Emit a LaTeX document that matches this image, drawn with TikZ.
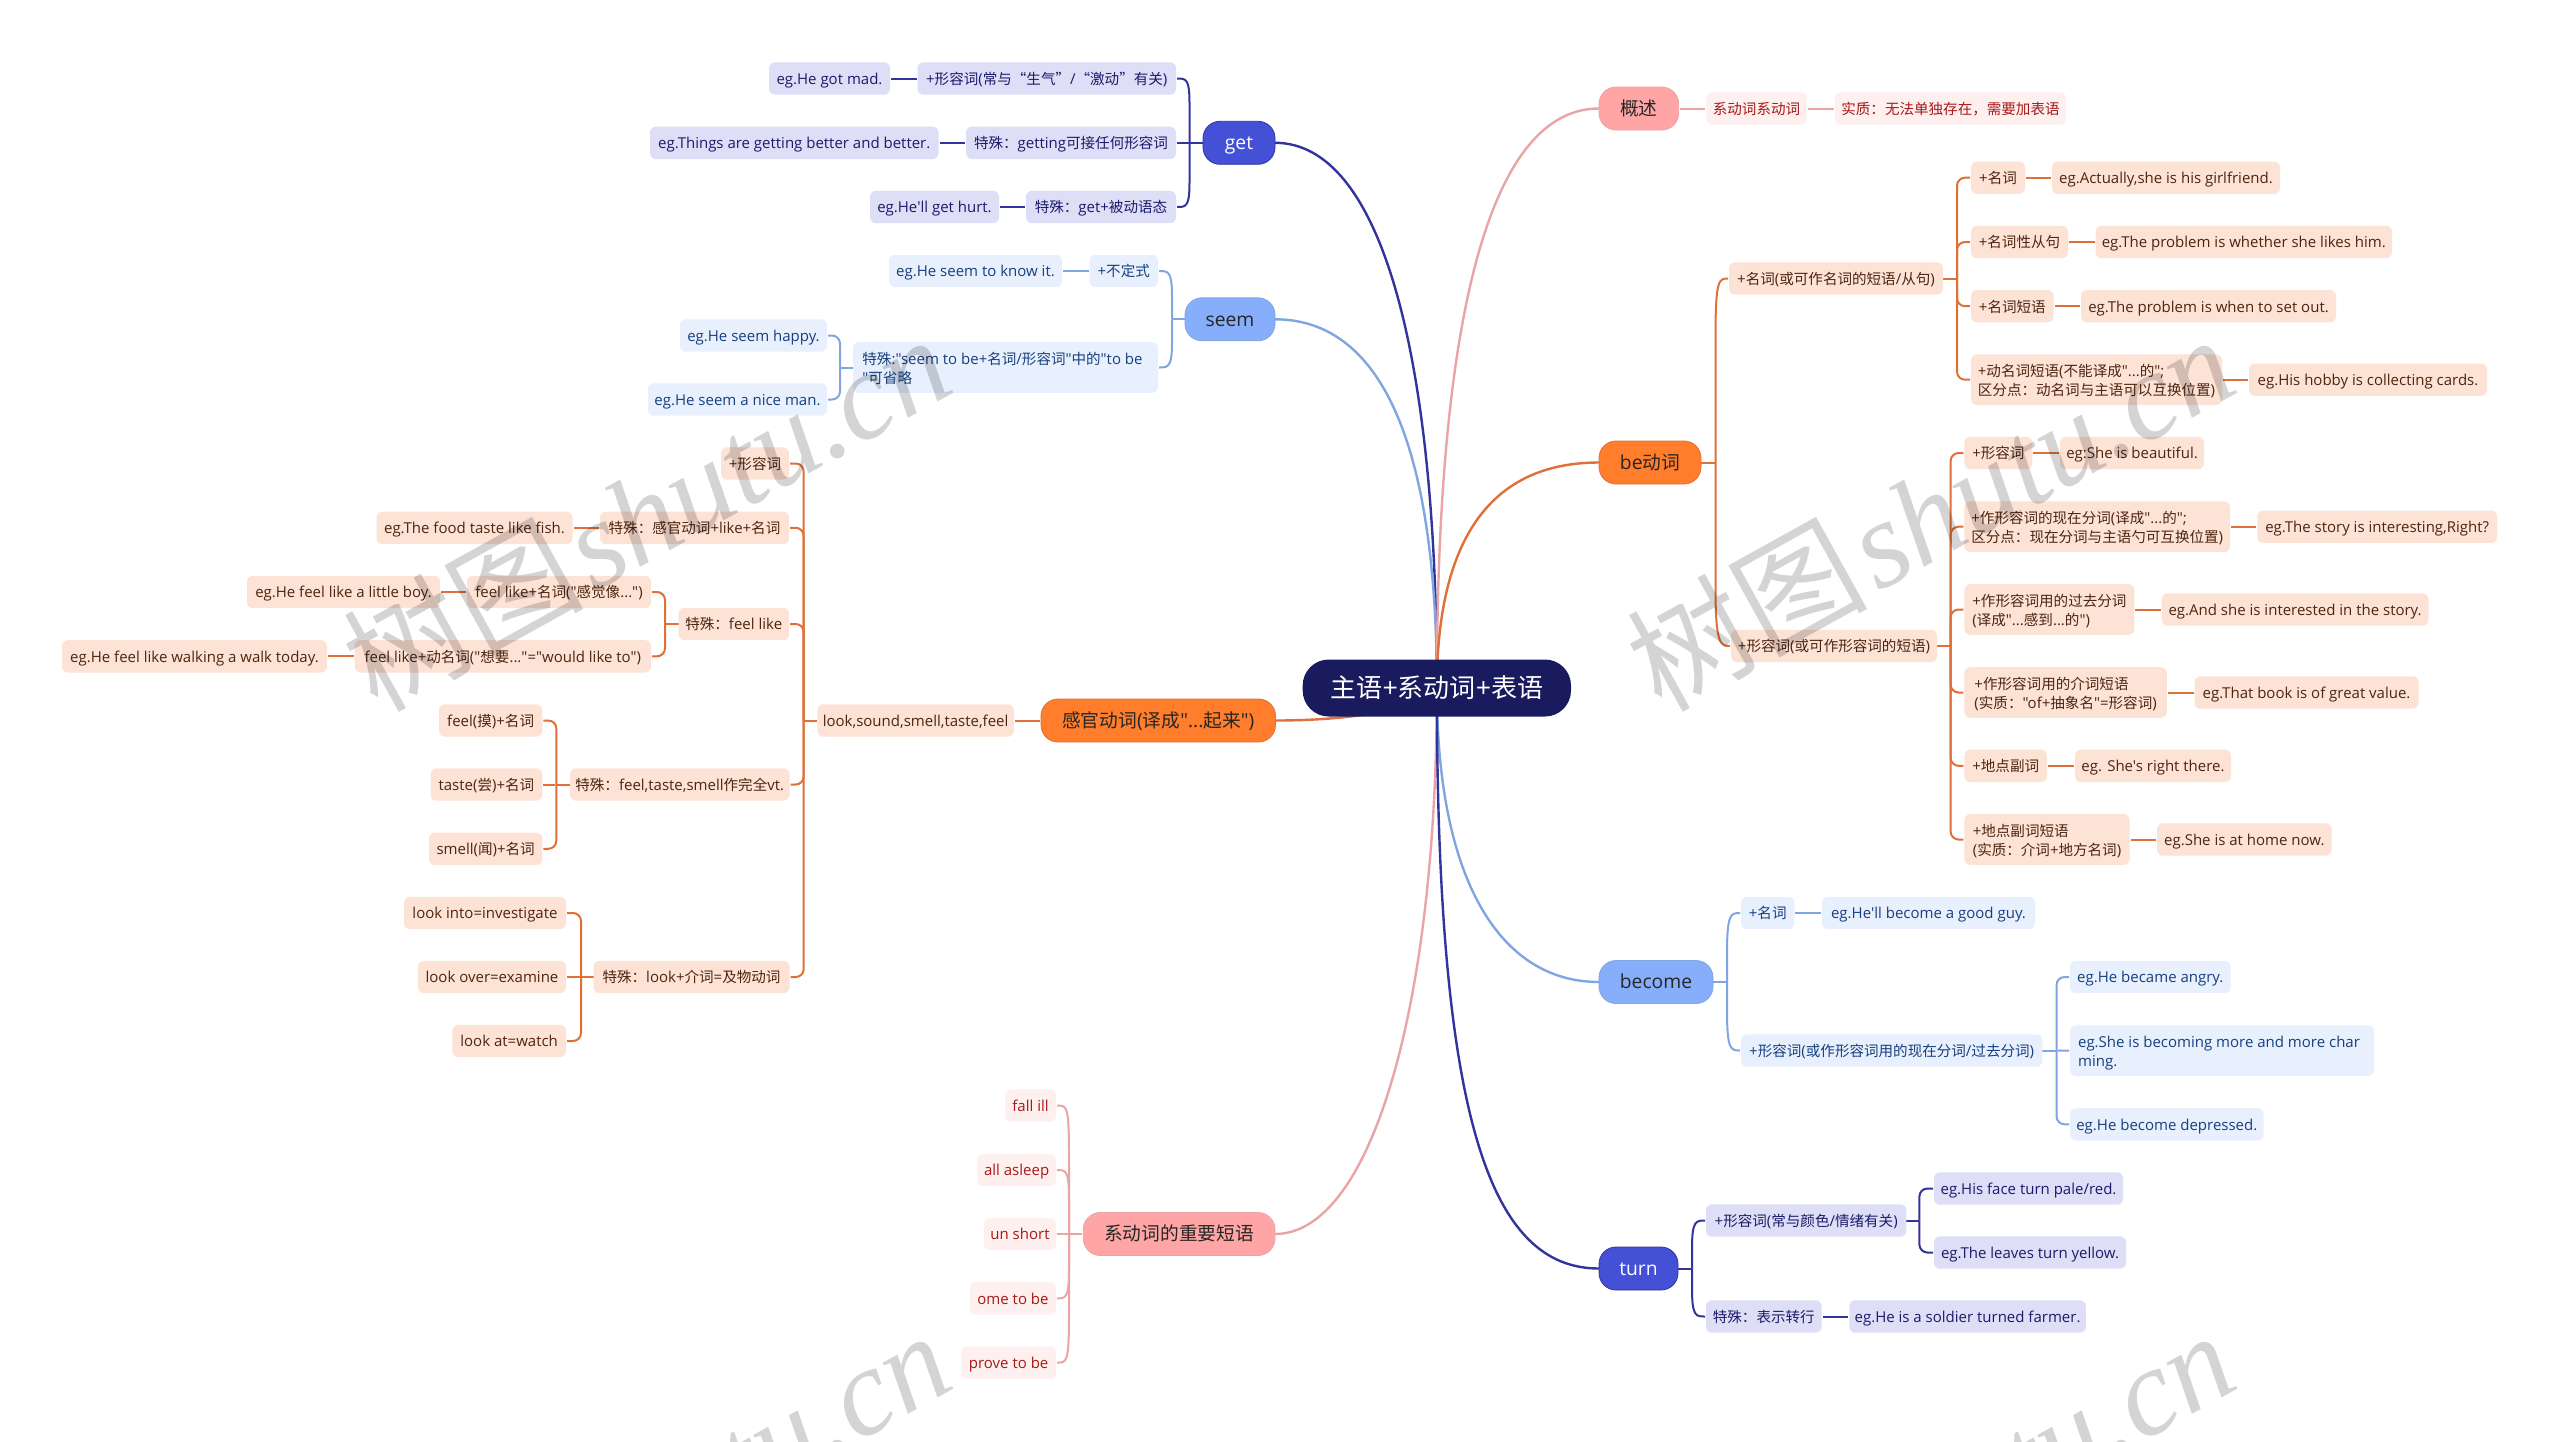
\documentclass[tikz,border=0pt]{standalone}
\usepackage{fontspec}
\usetikzlibrary{calc,backgrounds}
\newfontfamily\latinf{Open Sans}
\newfontfamily\cjkf[Scale=0.97]{Noto Sans CJK SC}
\newfontfamily\wmlatin{Liberation Serif}
% automatic switch to the CJK font
\newXeTeXintercharclass\cjkclass
\newcount\cjkcnt
\cjkcnt="4E00
\loop\XeTeXcharclass\cjkcnt=\cjkclass\ifnum\cjkcnt<"9FFF\advance\cjkcnt by 1\repeat
\cjkcnt="3000
\loop\XeTeXcharclass\cjkcnt=\cjkclass\ifnum\cjkcnt<"303F\advance\cjkcnt by 1\repeat
\cjkcnt="FF00
\loop\XeTeXcharclass\cjkcnt=\cjkclass\ifnum\cjkcnt<"FFEF\advance\cjkcnt by 1\repeat
\XeTeXcharclass"201C=\cjkclass
\XeTeXcharclass"201D=\cjkclass
\XeTeXinterchartokenstate=1
\XeTeXinterchartoks 0 \cjkclass={\begingroup\cjkf}
\XeTeXinterchartoks 4095 \cjkclass={\begingroup\cjkf}
\XeTeXinterchartoks \cjkclass 0={\endgroup}
\XeTeXinterchartoks \cjkclass 4095={\endgroup}

\definecolor{rootC}{HTML}{1A1A5E}
\definecolor{navyF}{HTML}{4450D6}
\definecolor{navyL}{HTML}{DEDEF7}
\definecolor{navyT}{HTML}{1B1B6B}
\definecolor{navyN}{HTML}{33339C}
\definecolor{blueF}{HTML}{86AEFB}
\definecolor{blueL}{HTML}{E8F0FD}
\definecolor{blueT}{HTML}{17407F}
\definecolor{blueN}{HTML}{7FA6E0}
\definecolor{oranF}{HTML}{FF7D2B}
\definecolor{oranL}{HTML}{FDE3D6}
\definecolor{oranT}{HTML}{4E2510}
\definecolor{oranN}{HTML}{DE7038}
\definecolor{pinkF}{HTML}{FFA5A5}
\definecolor{pinkL}{HTML}{FDF0EF}
\definecolor{pinkT}{HTML}{A81818}
\definecolor{pinkN}{HTML}{E9A5A5}

\tikzset{
  x=1pt,y=-1pt,
  boxbase/.style={rectangle,inner sep=0pt,outer sep=0pt,align=left},
  leaf/.style={boxbase,rounded corners=6pt,minimum height=32.4pt,text height=15pt,text depth=3.4pt,font=\fontsize{15}{19}\selectfont\latinf},
  main/.style={boxbase,rounded corners=17pt,minimum height=43pt,text height=19pt,text depth=5.6pt,font=\fontsize{19.3}{22}\selectfont\latinf},
  leafG/.style={leaf,fill=navyL,text=navyT},
  leafB/.style={leaf,fill=blueL,text=blueT},
  leafO/.style={leaf,fill=oranL,text=oranT},
  leafP/.style={leaf,fill=pinkL,text=pinkT},
  mainG/.style={main,fill=navyF,draw=navyN,line width=0.8pt,text=white},
  mainB/.style={main,fill=blueF,draw=blueN,line width=0.8pt,text=black!85},
  mainO/.style={main,fill=oranF,draw=oranN,line width=0.8pt,text=black!85},
  mainP/.style={main,fill=pinkF,draw=pinkN,line width=0.8pt,text=black!85},
  tall/.style={minimum height=50.6pt,text height=35pt,text depth=3.6pt},
  rootbox/.style={boxbase,rounded corners=26pt,minimum height=57pt,text height=27pt,text depth=8pt,fill=rootC,text=white,font=\fontsize{26.8}{30}\selectfont\latinf},
  lnG/.style={draw=navyN,line width=2pt},
  lnB/.style={draw=blueN,line width=2pt},
  lnO/.style={draw=oranN,line width=2pt},
  lnP/.style={draw=pinkN,line width=2pt},
  trunk/.style={line width=2.4pt},
  gapped/.style={shorten <=1pt,shorten >=1pt},
  wm/.style={anchor=base,rotate=29,text=black,opacity=0.17,font=\fontsize{124}{130}\selectfont\wmlatin\itshape}
}
\newcommand\nd[7][]{%
  \pgfmathsetmacro\ww{#5-#4}\pgfmathsetmacro\cx{(#4+#5)/2}%
  \node[#2,minimum width=\ww pt,#1] (#3) at (\cx,#6) {#7};}
% curved branch: style, child anchor, bus, dx, dy
\newcommand\cbr[5]{\draw[#1,shorten <=1pt] (#2) .. controls +(#4,0) and +(0,-#5) .. ($(#3 |- #2)+(0,#5)$) -- (#3);}
% square branch with rounded corner: style, child anchor, bus
\newcommand\obr[3]{\draw[#1,rounded corners=8pt,shorten <=1pt] (#2) -- (#3 |- #2) -- (#3);}
% straight connector
\newcommand\lk[3]{\draw[#1,gapped] (#2) -- (#3);}

\begin{document}
\begin{tikzpicture}
\useasboundingbox (0,0) rectangle (2560,1441);
\nd{rootbox}{root}{1302.7}{1571}{688}{主语+系动词+表语}

% get
\nd{mainG}{get}{1203}{1275}{142.8}{get}
\nd{leafG}{ga}{917.5}{1176}{78.5}{+形容词(常与“生气”/“激动”有关)}
\nd{leafG}{gaa}{769}{890}{78.5}{eg.He got mad.}
\nd{leafG}{gb}{966}{1176}{142.8}{特殊：getting可接任何形容词}
\nd{leafG}{gba}{650}{938.5}{142.8}{eg.Things are getting better and better.}
\nd{leafG}{gc}{1026}{1176}{207}{特殊：get+被动语态}
\nd{leafG}{gca}{870}{999}{207}{eg.He'll get hurt.}

% seem
\nd{mainB}{seem}{1185}{1275}{319.3}{seem}
\nd{leafB}{sa}{1089.5}{1158}{271}{+不定式}
\nd{leafB}{saa}{889}{1062}{271}{eg.He seem to know it.}
\nd[tall]{leafB}{sb}{853}{1158}{367.5}{特殊:"seem to be+名词/形容词"中的"to be\kern6pt\\"可省略}
\nd{leafB}{sba}{680}{827}{335.5}{eg.He seem happy.}
\nd{leafB}{sbb}{648}{827}{399.5}{eg.He seem a nice man.}

% sense verbs
\nd{mainO}{gg}{1041}{1275.5}{720.5}{感官动词(译成"...起来")}
\nd{leafO}{gk}{817.4}{1013.8}{720.5}{look,sound,smell,taste,feel}
\nd{leafO}{ka}{721}{789}{463.5}{+形容词}
\nd{leafO}{kb}{600}{789}{527.8}{特殊：感官动词+like+名词}
\nd{leafO}{kba}{376.5}{572.5}{527.8}{eg.The food taste like fish.}
\nd{leafO}{kc}{678.5}{789}{624}{特殊：feel like}
\nd{leafO}{kca}{467}{651}{592}{feel like+名词("感觉像...")}
\nd{leafO}{kcaa}{247}{440}{592}{eg.He feel like a little boy.}
\nd{leafO}{kcb}{354.6}{651}{656.3}{feel like+动名词("想要..."="would like to")}
\nd{leafO}{kcba}{62}{327}{656.3}{eg.He feel like walking a walk today.}
\nd{leafO}{kd}{570}{789.5}{784.5}{特殊：feel,taste,smell作完全vt.}
\nd{leafO}{kda}{439}{542.3}{720.5}{feel(摸)+名词}
\nd{leafO}{kdb}{430.5}{542.3}{784.5}{taste(尝)+名词}
\nd{leafO}{kdc}{429}{542.3}{848.8}{smell(闻)+名词}
\nd{leafO}{ke}{593.5}{789.5}{977}{特殊：look+介词=及物动词}
\nd{leafO}{kea}{404}{566}{913}{look into=investigate}
\nd{leafO}{keb}{418}{566}{977}{look over=examine}
\nd{leafO}{kec}{452.3}{566}{1041}{look at=watch}

% phrases
\nd{mainP}{ph}{1083.3}{1275}{1234}{系动词的重要短语}
\nd{leafP}{pa}{1005}{1056}{1105.5}{fall ill}
\nd{leafP}{pb}{977.3}{1056}{1170}{all asleep}
\nd{leafP}{pc}{984}{1056}{1234}{un short}
\nd{leafP}{pd}{970}{1056}{1298.3}{ome to be}
\nd{leafP}{pe}{961.3}{1056}{1362.7}{prove to be}

% overview
\nd{mainP}{ov}{1599}{1678.7}{108.5}{概述}
\nd{leafP}{ova}{1706.3}{1806.7}{108.5}{系动词系动词}
\nd{leafP}{ovb}{1835}{2066}{108.5}{实质：无法单独存在，需要加表语}

% be
\nd{mainO}{be}{1599}{1701}{462.5}{be动词}
\nd{leafO}{ba}{1729}{1943}{278.5}{+名词(或可作名词的短语/从句)}
\nd{leafO}{baa}{1971}{2025}{177.7}{+名词}
\nd{leafO}{baaa}{2052}{2280}{177.7}{eg.Actually,she is his girlfriend.}
\nd{leafO}{bab}{1971}{2068}{242}{+名词性从句}
\nd{leafO}{baba}{2095.5}{2392}{242}{eg.The problem is whether she likes him.}
\nd{leafO}{bac}{1971}{2053.6}{306.2}{+名词短语}
\nd{leafO}{baca}{2081}{2336}{306.2}{eg.The problem is when to set out.}
\nd[tall]{leafO}{bad}{1971}{2222}{379.7}{+动名词短语(不能译成"...的";\\区分点：动名词与主语可以互换位置)}
\nd{leafO}{bada}{2249}{2487}{379.7}{eg.His hobby is collecting cards.}
\nd{leafO}{bb}{1731}{1937}{646}{+形容词(或可作形容词的短语)}
\nd{leafO}{bba}{1964.4}{2032.4}{453}{+形容词}
\nd{leafO}{bbaa}{2060}{2204}{453}{eg:She is beautiful.}
\nd[tall]{leafO}{bbb}{1964.4}{2230}{526.7}{+作形容词的现在分词(译成"...的";\\区分点：现在分词与主语勺可互换位置)}
\nd{leafO}{bbba}{2257.3}{2497}{526.7}{eg.The story is interesting,Right?}
\nd[tall]{leafO}{bbc}{1964.4}{2134.4}{609.5}{+作形容词用的过去分词\\(译成"...感到...的")}
\nd{leafO}{bbca}{2161.7}{2428.5}{609.5}{eg.And she is interested in the story.}
\nd[tall]{leafO}{bbd}{1964.4}{2166.8}{692.5}{+作形容词用的介词短语\\(实质："of+抽象名"=形容词)}
\nd{leafO}{bbda}{2194.5}{2418.6}{692.5}{eg.That book is of great value.}
\nd{leafO}{bbe}{1964.4}{2047}{765.8}{+地点副词}
\nd{leafO}{bbea}{2075}{2231}{765.8}{eg. She's right there.}
\nd[tall]{leafO}{bbf}{1964.4}{2129.6}{839.5}{+地点副词短语\\(实质：介词+地方名词)}
\nd{leafO}{bbfa}{2157}{2331.6}{839.5}{eg.She is at home now.}

% become
\nd{mainB}{bc}{1599}{1713}{982}{become}
\nd{leafB}{ca}{1741}{1794.4}{913}{+名词}
\nd{leafB}{caa}{1822}{2035}{913}{eg.He'll become a good guy.}
\nd{leafB}{cb}{1741}{2042.3}{1050.5}{+形容词(或作形容词用的现在分词/过去分词)}
\nd{leafB}{cba}{2070}{2230.6}{977}{eg.He became angry.}
\nd[tall]{leafB}{cbb}{2070}{2374}{1050.7}{eg.She is becoming more and more char\kern6pt\\ming.}
\nd{leafB}{cbc}{2070}{2263.6}{1124.3}{eg.He become depressed.}

% turn
\nd{mainG}{tn}{1599}{1678}{1268.5}{turn}
\nd{leafG}{ta}{1706}{1906.4}{1220.5}{+形容词(常与颜色/情绪有关)}
\nd{leafG}{taa}{1934}{2123}{1188.5}{eg.His face turn pale/red.}
\nd{leafG}{tab}{1934}{2126}{1252.5}{eg.The leaves turn yellow.}
\nd{leafG}{tb}{1706}{1821.6}{1316.5}{特殊：表示转行}
\nd{leafG}{tba}{1849.3}{2085.8}{1316.5}{eg.He is a soldier turned farmer.}

% bus points
\coordinate (gbus) at (1189.5,142.8);
\coordinate (sbus) at (1172,319.3);
\coordinate (sbbus) at (840,367.5);
\coordinate (kbus) at (803.7,720.5);
\coordinate (kcbus) at (665,624);
\coordinate (kdbus) at (556.3,784.5);
\coordinate (kebus) at (581,977);
\coordinate (pbus) at (1069,1234);
\coordinate (bbus) at (1715.5,462.5);
\coordinate (babus) at (1957,278.5);
\coordinate (bbbus) at (1950.6,646);
\coordinate (cbus) at (1727,982);
\coordinate (cbbus) at (2056.5,1050.5);
\coordinate (tbus) at (1692,1268.5);
\coordinate (tabus) at (1919.4,1220.5);

\begin{scope}[on background layer]
\fill[white] (0,0) rectangle (2560,1441);
% trunks
\draw[lnG,trunk] (get.east) .. controls +(105,0) and +(0,-338) .. (root.center);
\draw[lnB,trunk] (seem.east) .. controls +(95,0) and +(0,-268) .. (root.center);
\draw[lnO,trunk] (gg.east) .. controls +(105,0) and +(0,12) .. (root.center);
\draw[lnP,trunk] (ph.east) .. controls +(95,0) and +(0,322) .. (root.center);
\draw[lnP,trunk] (ov.west) .. controls +(-99,0) and +(0,-408) .. (root.center);
\draw[lnO,trunk] (be.west) .. controls +(-109,0) and +(0,-148) .. (root.center);
\draw[lnB,trunk] (bc.west) .. controls +(-99,0) and +(0,192) .. (root.center);
\draw[lnG,trunk] (tn.west) .. controls +(-109,0) and +(0,432) .. (root.center);
% get
\draw[lnG] (get.west) -- (gbus);
\cbr{lnG}{ga.east}{gbus}{10}{25}
\lk{lnG}{gb.east}{gbus}
\cbr{lnG}{gc.east}{gbus}{10}{-25}
\lk{lnG}{ga.west}{gaa.east}
\lk{lnG}{gb.west}{gba.east}
\lk{lnG}{gc.west}{gca.east}
% seem
\draw[lnB] (seem.west) -- (sbus);
\cbr{lnB}{sa.east}{sbus}{10}{25}
\cbr{lnB}{sb.east}{sbus}{10}{-25}
\lk{lnB}{sa.west}{saa.east}
\draw[lnB] (sb.west) -- (sbbus);
\obr{lnB}{sba.east}{sbbus}
\obr{lnB}{sbb.east}{sbbus}
% sense
\lk{lnO}{gg.west}{gk.east}
\draw[lnO] (gk.west) -- (kbus);
\obr{lnO}{ka.east}{kbus}
\obr{lnO}{kb.east}{kbus}
\obr{lnO}{kc.east}{kbus}
\obr{lnO}{kd.east}{kbus}
\obr{lnO}{ke.east}{kbus}
\lk{lnO}{kb.west}{kba.east}
\draw[lnO] (kc.west) -- (kcbus);
\obr{lnO}{kca.east}{kcbus}
\obr{lnO}{kcb.east}{kcbus}
\lk{lnO}{kca.west}{kcaa.east}
\lk{lnO}{kcb.west}{kcba.east}
\draw[lnO] (kd.west) -- (kdbus);
\obr{lnO}{kda.east}{kdbus}
\obr{lnO}{kdc.east}{kdbus}
\lk{lnO}{kdb.east}{kdbus}
\draw[lnO] (ke.west) -- (kebus);
\obr{lnO}{kea.east}{kebus}
\obr{lnO}{kec.east}{kebus}
\lk{lnO}{keb.east}{kebus}
% phrases
\lk{lnP}{ph.west}{pc.east}
\cbr{lnP}{pa.east}{pbus}{11}{50}
\cbr{lnP}{pb.east}{pbus}{10}{30}
\cbr{lnP}{pd.east}{pbus}{10}{-30}
\cbr{lnP}{pe.east}{pbus}{11}{-50}
% overview
\lk{lnP}{ov.east}{ova.west}
\lk{lnP}{ova.east}{ovb.west}
% be
\draw[lnO] (be.east) -- (bbus);
\cbr{lnO}{ba.west}{bbus}{-10}{58}
\cbr{lnO}{bb.west}{bbus}{-10}{-58}
\draw[lnO] (ba.east) -- (babus);
\obr{lnO}{baa.west}{babus}
\obr{lnO}{bab.west}{babus}
\obr{lnO}{bac.west}{babus}
\obr{lnO}{bad.west}{babus}
\lk{lnO}{baa.east}{baaa.west}
\lk{lnO}{bab.east}{baba.west}
\lk{lnO}{bac.east}{baca.west}
\lk{lnO}{bad.east}{bada.west}
\draw[lnO] (bb.east) -- (bbbus);
\obr{lnO}{bba.west}{bbbus}
\obr{lnO}{bbb.west}{bbbus}
\obr{lnO}{bbc.west}{bbbus}
\obr{lnO}{bbd.west}{bbbus}
\obr{lnO}{bbe.west}{bbbus}
\obr{lnO}{bbf.west}{bbbus}
\lk{lnO}{bba.east}{bbaa.west}
\lk{lnO}{bbb.east}{bbba.west}
\lk{lnO}{bbc.east}{bbca.west}
\lk{lnO}{bbd.east}{bbda.west}
\lk{lnO}{bbe.east}{bbea.west}
\lk{lnO}{bbf.east}{bbfa.west}
% become
\draw[lnB] (bc.east) -- (cbus);
\cbr{lnB}{ca.west}{cbus}{-10}{40}
\cbr{lnB}{cb.west}{cbus}{-10}{-40}
\lk{lnB}{ca.east}{caa.west}
\draw[lnB] (cb.east) -- (cbbus);
\obr{lnB}{cba.west}{cbbus}
\obr{lnB}{cbc.west}{cbbus}
\lk{lnB}{cbb.west}{cbbus}
% turn
\draw[lnG] (tn.east) -- (tbus);
\cbr{lnG}{ta.west}{tbus}{-10}{28}
\cbr{lnG}{tb.west}{tbus}{-10}{-28}
\draw[lnG] (ta.east) -- (tabus);
\obr{lnG}{taa.west}{tabus}
\obr{lnG}{tab.west}{tabus}
\lk{lnG}{tb.east}{tba.west}
\end{scope}

% watermark
\node[wm] (wa) at (668,552) {树图\hspace{8pt}shutu.cn};
\node[wm] (wb) at (1952,552) {树图\hspace{8pt}shutu.cn};
\node[wm] (wc) at (668,1548) {树图\hspace{8pt}shutu.cn};
\node[wm] (wd) at (1952,1548) {树图\hspace{8pt}shutu.cn};
\end{tikzpicture}
\end{document}
